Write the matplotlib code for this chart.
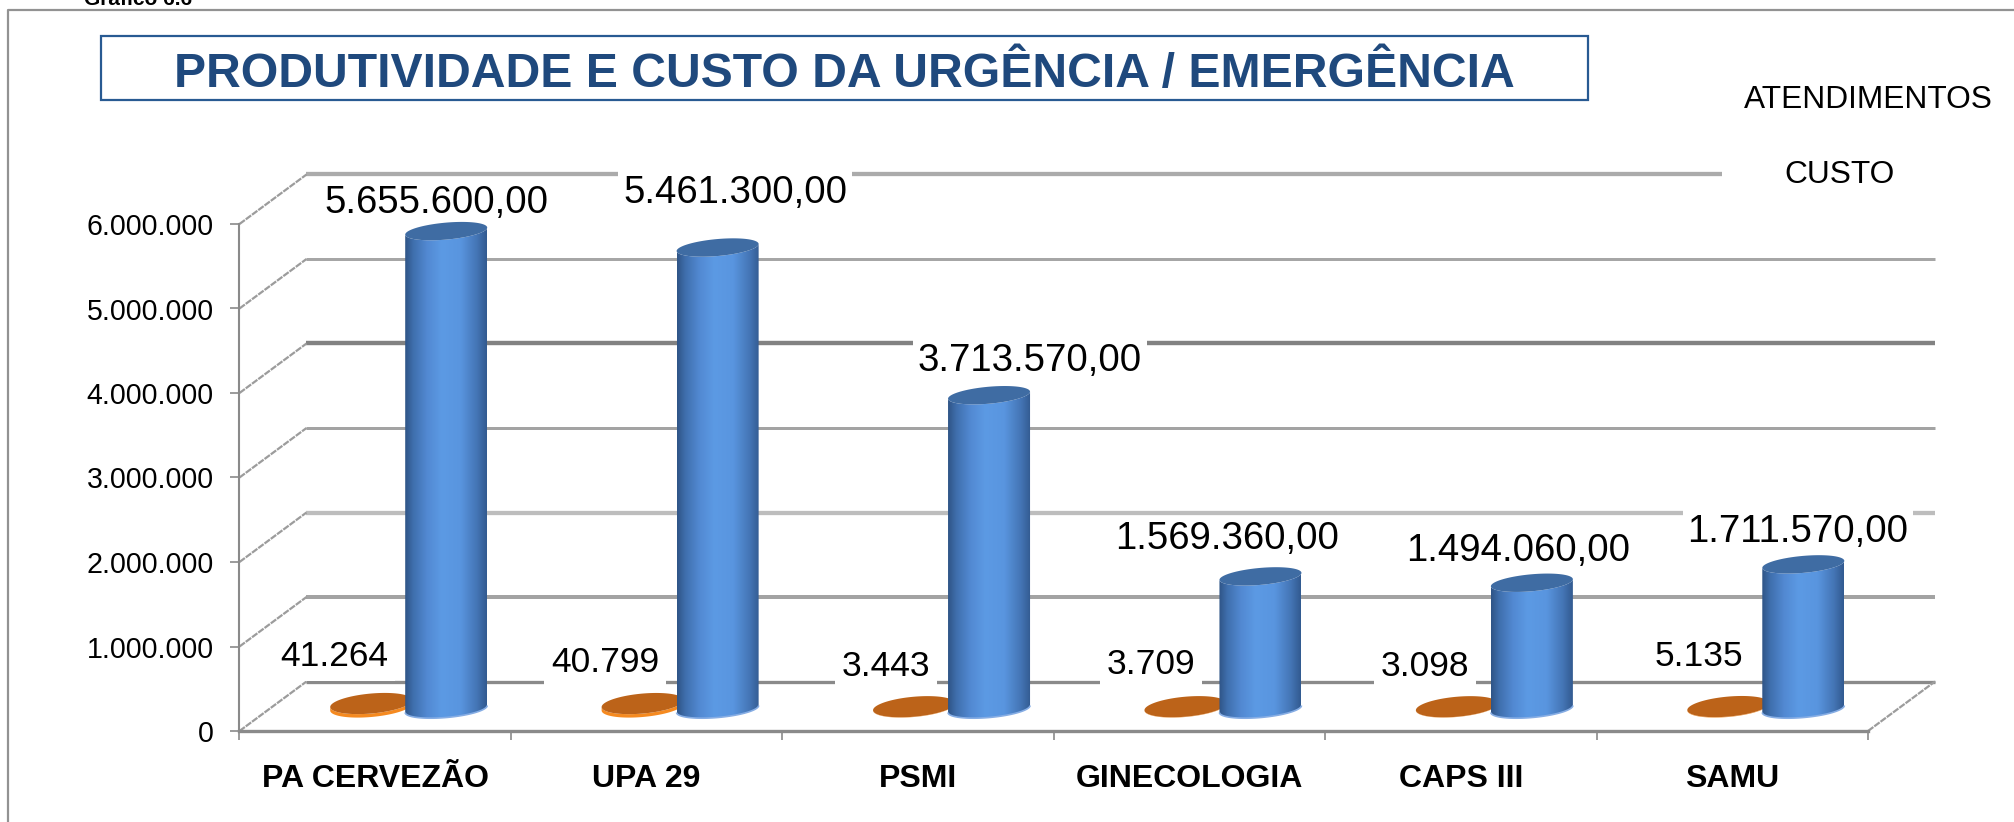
import matplotlib
matplotlib.use("Agg")
import matplotlib.pyplot as plt
import numpy as np
from matplotlib.colors import LinearSegmentedColormap
from matplotlib.patches import Polygon, Rectangle
from matplotlib.ticker import FuncFormatter

plt.rcParams["font.family"] = ["Liberation Sans", "DejaVu Sans"]

W, H = 2015, 822

# Data
categories = ["PA CERVEZÃO", "UPA 29", "PSMI", "GINECOLOGIA", "CAPS III", "SAMU"]
custo = [5655600, 5461300, 3713570, 1569360, 1494060, 1711570]
atendimentos = [41264, 40799, 3443, 3709, 3098, 5135]
y_ticks = [0, 1000000, 2000000, 3000000, 4000000, 5000000, 6000000]

# Where the labels sit in the picture (pixels)
custo_label_pos = [(436, 203), (735, 193), (1030, 361), (1227, 539), (1518, 551), (1798, 532)]
atend_label_pos = [(334, 657), (605, 663), (886, 666), (1151, 664), (1425, 667), (1699, 656)]

# Fake 3D geometry, pixels
AX_LEFT, AX_RIGHT, AX_TOP, AX_BOTTOM = 239.5, 1868, 224, 731
PX_X = (AX_RIGHT - AX_LEFT) / 6
PX_Y = (AX_BOTTOM - AX_TOP) / 6000000
DEPTH_X = 67 / PX_X
DEPTH_Y = 49.5 / PX_Y
BASE_X = 34 / PX_X
BASE_Y = 22 / PX_Y

GRID_STYLES = {
    0: ("#8a8a8a", 3.3),
    1000000: ("#a3a3a3", 4.0),
    2000000: ("#bdbdbd", 4.3),
    3000000: ("#a3a3a3", 3.0),
    4000000: ("#828282", 4.4),
    5000000: ("#a6a6a6", 3.0),
    6000000: ("#ababab", 4.3),
}

blue_cmap = LinearSegmentedColormap.from_list(
    "cyl",
    [(0, "#2f5486"), (0.1, "#3f6fad"), (0.27, "#5289d2"), (0.45, "#5c9ae4"),
     (0.68, "#5995df"), (0.88, "#4475b5"), (1, "#325a90")],
)


def br_number(v, pos=None):
    return f"{int(v):,}".replace(",", ".")


def fx(px):
    return px / W


def fy(py):
    return 1 - py / H


def ellipse_xy(cx, cy, a, b, tilt, t):
    """Tilted ellipse in data units; a, b and tilt are given in pixels."""
    x = cx + a * np.cos(t) / PX_X
    y = cy + (b * np.sin(t) + tilt * np.cos(t)) / PX_Y
    return x, y


def draw_cylinder(ax, cx, value, base, a, b, tilt, body, top, rim=None, z=5):
    t_low = np.linspace(np.pi, 2 * np.pi, 60)
    t_all = np.linspace(0, 2 * np.pi, 120)
    xb, yb = ellipse_xy(cx, base, a, b, tilt, t_low)
    xt, yt = ellipse_xy(cx, base + value, a, b, tilt, t_low[::-1])
    outline = np.column_stack([np.r_[xb, xt], np.r_[yb, yt]])
    if body is None:
        patch = Polygon(outline, closed=True, facecolor="none", edgecolor="none", zorder=z)
        ax.add_patch(patch)
        grad = np.linspace(0, 1, 256).reshape(1, -1)
        ext = [cx - a / PX_X, cx + a / PX_X, base - 12 / PX_Y, base + value + 12 / PX_Y]
        im = ax.imshow(grad, cmap=blue_cmap, extent=ext, aspect="auto", zorder=z, clip_on=True)
        im.set_clip_path(patch)
    else:
        ax.add_patch(Polygon(outline, closed=True, facecolor=body, edgecolor="none",
                             zorder=z, clip_on=False))
    if rim:
        ax.plot(xb, yb, color=rim, lw=1.2, zorder=z + 0.1, clip_on=False, solid_capstyle="butt")
    xe, ye = ellipse_xy(cx, base + value, a, b, tilt, t_all)
    ax.add_patch(Polygon(np.column_stack([xe, ye]), closed=True, facecolor=top, edgecolor="none",
                         zorder=z + 0.2, clip_on=False))


fig = plt.figure(figsize=(W / 100, H / 100), dpi=100, facecolor="white")
ax = fig.add_axes([fx(AX_LEFT), fy(AX_BOTTOM), (AX_RIGHT - AX_LEFT) / W, (AX_BOTTOM - AX_TOP) / H])
ax.patch.set_alpha(0)

# Back wall gridlines and slanted wall lines
for val in y_ticks:
    color, lw = GRID_STYLES[val]
    ax.plot([DEPTH_X, 6 + DEPTH_X], [val + DEPTH_Y, val + DEPTH_Y], color=color,
            lw=lw * 0.72, zorder=1, clip_on=False, solid_capstyle="butt")
    ax.plot([0, DEPTH_X], [val, val + DEPTH_Y], color="#9c9c9c", lw=1.6, zorder=1,
            clip_on=False, dashes=(3, 0.5))
ax.plot([6, 6 + DEPTH_X], [0, DEPTH_Y], color="#9c9c9c", lw=1.6, zorder=1,
        clip_on=False, dashes=(3, 0.5))

# Legend sits on a white block that cuts the top gridline
ax.add_patch(Rectangle((fx(1722), fy(195)), fx(260), 50 / H, transform=fig.transFigure,
                       facecolor="white", edgecolor="none", zorder=1.5, clip_on=False))

# Data labels mask the gridlines behind them
for (px, py), val in zip(custo_label_pos, custo):
    ax.text(fx(px), fy(py), br_number(val) + ",00", transform=fig.transFigure, ha="center",
            va="center", fontsize=27.6, color="black", zorder=2, clip_on=False,
            bbox=dict(facecolor="white", edgecolor="none", pad=3.5))
for (px, py), val in zip(atend_label_pos, atendimentos):
    ax.text(fx(px), fy(py), br_number(val), transform=fig.transFigure, ha="center",
            va="center", fontsize=25.5, color="black", zorder=2, clip_on=False,
            bbox=dict(facecolor="white", edgecolor="none", pad=5))

# Cylinders
x_pos = np.arange(len(categories)) + 0.5 + BASE_X
for i in range(len(categories)):
    draw_cylinder(ax, x_pos[i] - 38 / PX_X, atendimentos[i], BASE_Y + 2 / PX_Y, 41, 10, 3.5,
                  "#f58a20", "#bc6319", z=4)
    draw_cylinder(ax, x_pos[i] + 37 / PX_X, custo[i], BASE_Y, 41, 8.5, 3.5,
                  None, "#3f6ca3", rim="#86ade4", z=5)

ax.set_xlim(0, 6)
ax.set_ylim(0, 6000000)

for side in ["top", "right"]:
    ax.spines[side].set_visible(False)
ax.spines["left"].set_color("#8a8a8a")
ax.spines["left"].set_linewidth(1.5)
ax.spines["bottom"].set_color("#8a8a8a")
ax.spines["bottom"].set_linewidth(2.4)
ax.spines["left"].set_zorder(6)
ax.set_yticks(y_ticks)
ax.yaxis.set_major_formatter(FuncFormatter(br_number))
ax.tick_params(axis="y", length=6.5, width=1.2, color="#8a8a8a", labelsize=20.6, pad=12)
ax.set_xticks(range(7))
ax.set_xticklabels([])
ax.tick_params(axis="x", which="major", length=6.5, width=1.2, color="#8a8a8a")
ax.set_xticks(np.arange(6) + 0.5, minor=True)
ax.set_xticklabels(categories, minor=True, fontsize=23, fontweight="bold")
ax.tick_params(axis="x", which="minor", length=0, pad=24)

# Outer frame, open at the bottom and right
fig.add_artist(plt.Line2D([fx(8), fx(8), 1], [0, fy(10), fy(10)], color="#929292", lw=1.6))

# Title box
fig.add_artist(Rectangle((fx(101.5), fy(100)), (1588 - 101.5) / W, 64 / H, transform=fig.transFigure,
                         facecolor="white", edgecolor="#285a92", lw=1.6))
fig.text(fx(844), fy(74), "PRODUTIVIDADE E CUSTO DA URGÊNCIA / EMERGÊNCIA", ha="center", va="center",
         fontsize=34.7, fontweight="bold", color="#1f497d")

# Legend texts and the cropped caption at the very top
fig.text(fx(1868), fy(100), "ATENDIMENTOS", ha="center", va="center", fontsize=22.8, color="black")
fig.text(fx(1840), fy(175), "CUSTO", ha="center", va="center", fontsize=22.8, color="black")
fig.text(fx(84), fy(5), "Gráfico 6.6", ha="left", va="baseline", fontsize=15, fontweight="bold")

fig.savefig("out.png", dpi=100)
